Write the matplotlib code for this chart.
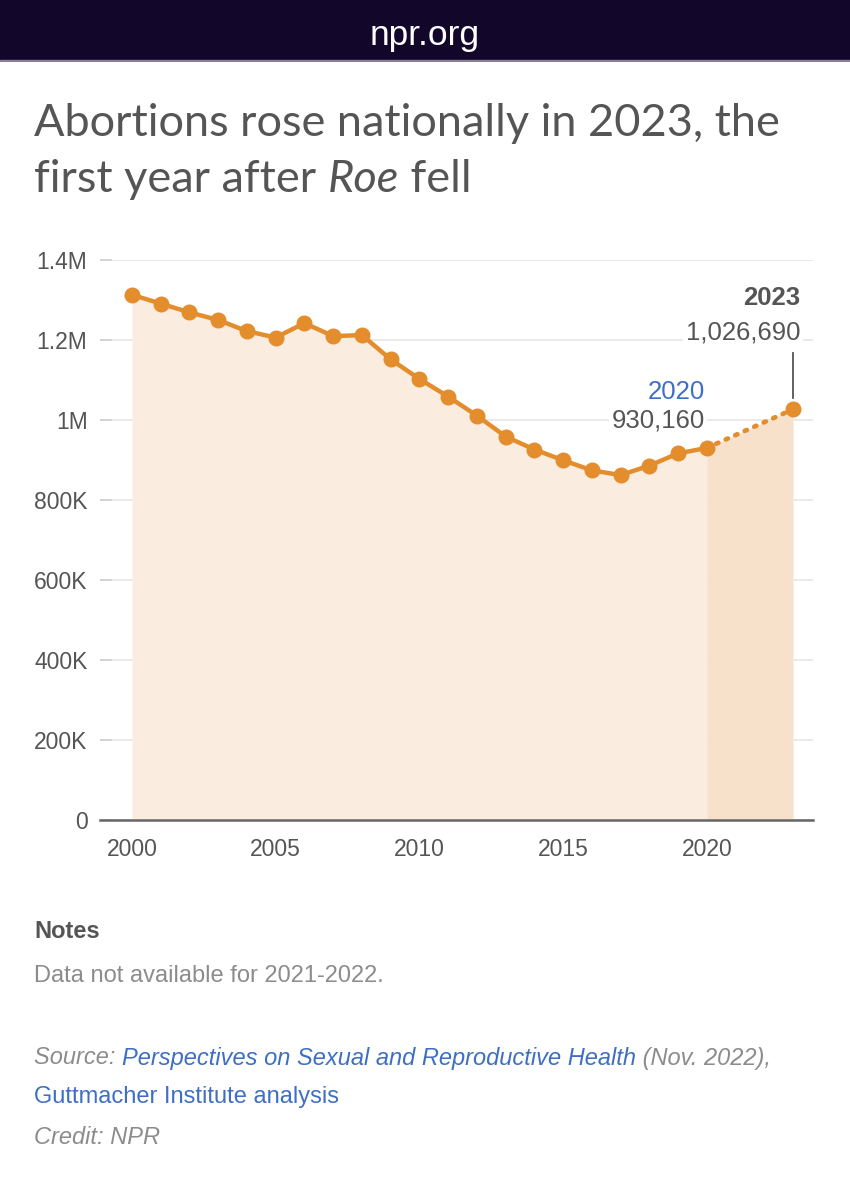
import matplotlib
matplotlib.use("Agg")
import matplotlib.pyplot as plt

# ---- data ----
years = [2000, 2001, 2002, 2003, 2004, 2005, 2006, 2007, 2008, 2009, 2010,
         2011, 2012, 2013, 2014, 2015, 2016, 2017, 2018, 2019, 2020]
abortions = [1312990, 1291000, 1269000, 1250000, 1222100, 1206200, 1242200,
             1209640, 1212350, 1151600, 1102670, 1058490, 1011000, 958700,
             926190, 899500, 874100, 862320, 885800, 916460, 930160]
year_2023 = 2023
value_2023 = 1026690
yticks = [0, 200000, 400000, 600000, 800000, 1000000, 1200000, 1400000]
ytick_labels = ["0", "200K", "400K", "600K", "800K", "1M", "1.2M", "1.4M"]
xticks = [2000, 2005, 2010, 2015, 2020]

title_line1 = "Abortions rose nationally in 2023, the"
title_line2_a = "first year after "
title_line2_b = "Roe"
title_line2_c = " fell"

ORANGE = "#e38d2c"
FILL = "#fbece0"
FILL_DARK = "#f8e1cb"
GREY = "#555555"
LIGHT = "#8c8c8c"
BLUE = "#3f6fc4"
FONT = "Liberation Sans"

W, H = 850, 1200
fig = plt.figure(figsize=(W / 100, H / 100), dpi=100)
fig.patch.set_facecolor("white")

def fx(px):
    return px / W

def fy(py):
    return 1 - py / H

# header band
hdr = fig.add_axes([0, fy(62), 1, 62 / H])
hdr.set_axis_off()
hdr.add_patch(plt.Rectangle((0, 0), 1, 1, color="#12072a", transform=hdr.transAxes))
hdr.add_patch(plt.Rectangle((0, 0), 1, 0.03, color="#8a8096", transform=hdr.transAxes))
fig.text(0.5, fy(36), "npr.org", color="white", fontsize=25.5, family=FONT,
         ha="center", va="center")

# title
renderer = fig.canvas.get_renderer()
TFONT = "Lato"
tsize = 32.5
fig.text(fx(34), fy(123), title_line1, color=GREY, fontsize=tsize, family=TFONT,
         ha="left", va="center")
t_a = fig.text(fx(34), fy(179), title_line2_a, color=GREY, fontsize=tsize,
               family=TFONT, ha="left", va="center")
bb = t_a.get_window_extent(renderer)
t_b = fig.text(bb.x1 / W, fy(179), title_line2_b, color=GREY, fontsize=tsize,
               family=TFONT, style="italic", ha="left", va="center")
bb = t_b.get_window_extent(renderer)
fig.text(bb.x1 / W, fy(179), title_line2_c, color=GREY, fontsize=tsize,
         family=TFONT, ha="left", va="center")

# main axes
x0_px, x1_px = 100, 813
ytop_px, ybot_px = 260, 820
ax = fig.add_axes([fx(x0_px), fy(ybot_px), (x1_px - x0_px) / W,
                   (ybot_px - ytop_px) / H])
px_per_year = (793 - 132) / (year_2023 - years[0])
ax.set_xlim(years[0] - (132 - x0_px) / px_per_year,
            year_2023 + (x1_px - 793) / px_per_year)
ax.set_ylim(0, yticks[-1])

ax.fill_between(years, abortions, 0, color=FILL, lw=0, zorder=1)
ax.fill_between([years[-1], year_2023], [abortions[-1], value_2023], 0,
                color=FILL_DARK, lw=0, zorder=1)

ax.plot([years[-1], year_2023], [abortions[-1], value_2023], color=ORANGE,
        lw=3.4, linestyle=(0, (0.5, 1.7)), dash_capstyle="round", zorder=3)
ax.plot(years, abortions, color=ORANGE, lw=3.2, marker="o", markersize=10.5,
        zorder=4, clip_on=False)
ax.plot([year_2023], [value_2023], color=ORANGE, marker="o", markersize=10.5,
        zorder=4, clip_on=False)

for s in ["top", "right", "left"]:
    ax.spines[s].set_visible(False)
ax.spines["bottom"].set_color("#666666")
ax.spines["bottom"].set_linewidth(1.8)
ax.spines["bottom"].set_zorder(5)

ax.set_yticks(yticks)
ax.set_yticklabels(ytick_labels)
ax.set_xticks(xticks)
ax.set_xticklabels([str(x) for x in xticks])
ax.tick_params(axis="y", direction="in", length=8.5, width=1.2, color="#cfcfcf",
               pad=9, labelsize=16.5, labelcolor=GREY)
ax.tick_params(axis="x", length=0, pad=13, labelsize=16.5, labelcolor=GREY)
for lab in ax.get_xticklabels() + ax.get_yticklabels():
    lab.set_family(FONT)
ax.grid(axis="y", color="#e8e8e8", lw=1.3, zorder=0)
ax.set_axisbelow(True)

# annotations
ann_kw = dict(textcoords="offset pixels", ha="right", va="center",
              family=FONT, fontsize=18.5, zorder=6)
ax.annotate(str(years[-1]), xy=(years[-1], abortions[-1]), xytext=(-2, 56),
            color=BLUE, **ann_kw)
ax.annotate(f"{abortions[-1]:,}", xy=(years[-1], abortions[-1]), xytext=(-2, 27),
            color=GREY, bbox=dict(boxstyle="square,pad=0.1", fc="white", ec="none"),
            **ann_kw)
ax.annotate(str(year_2023), xy=(year_2023, value_2023), xytext=(7, 111),
            color=GREY, fontweight="bold", **ann_kw)
ax.annotate(f"{value_2023:,}", xy=(year_2023, value_2023), xytext=(7, 77),
            color=GREY, bbox=dict(boxstyle="square,pad=0.1", fc="white", ec="none"),
            **ann_kw)
ax.plot([year_2023, year_2023], [value_2023 + 28000, value_2023 + 140000],
        color="#555555", lw=1.3, zorder=3)

# notes
NS = 17
fig.text(fx(34), fy(931), "Notes", color=GREY, fontsize=NS, family=FONT,
         fontweight="bold", ha="left", va="center")
fig.text(fx(34), fy(976), "Data not available for 2021-2022.", color=LIGHT,
         fontsize=NS, family=FONT, ha="left", va="center")

# source line with mixed styles
parts = [("Source: ", LIGHT), ("Perspectives on Sexual and Reproductive Health", BLUE),
         (" (Nov. 2022),", LIGHT)]
xpos = 34
for txt, col in parts:
    t = fig.text(fx(xpos), fy(1058), txt, color=col, fontsize=NS, family=FONT,
                 style="italic", ha="left", va="center")
    xpos = t.get_window_extent(renderer).x1
fig.text(fx(34), fy(1097), "Guttmacher Institute analysis", color=BLUE,
         fontsize=NS, family=FONT, ha="left", va="center")
fig.text(fx(34), fy(1137), "Credit: NPR", color=LIGHT, fontsize=NS,
         family=FONT, style="italic", ha="left", va="center")

fig.savefig("out.png", dpi=100, facecolor="white")
